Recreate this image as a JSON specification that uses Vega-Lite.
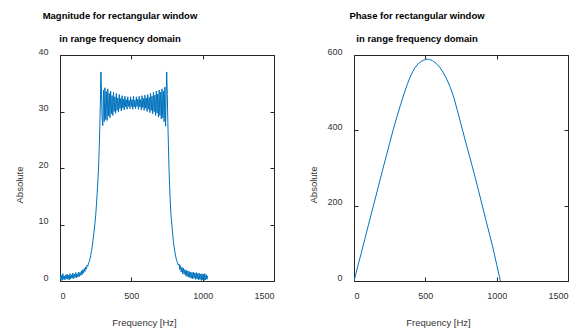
{
  "$schema": "https://vega.github.io/schema/vega-lite/v6.json",
  "padding": {"left": 13, "top": 10, "right": 5, "bottom": 5},
  "background": "white",
  "config": {
    "font": "Liberation Sans",
    "view": {"stroke": "#262626", "strokeWidth": 1},
    "axis": {"grid": false, "domain": false, "tickColor": "#262626", "tickSize": -4, "labelColor": "#333333", "labelFontSize": 9, "titleColor": "#333333", "titleFontSize": 9.5, "titleFontWeight": "normal", "format": "d"},
    "title": {"font": "Liberation Sans", "fontSize": 9.5, "fontWeight": "bold", "color": "#000000", "frame": "group", "lineHeight": 22.5, "offset": 4}
  },
  "spacing": 32,
  "datasets": {
    "mag": [
      {"f":0,"v":1.2},{"f":5,"v":0.2},{"f":10,"v":1.0},{"f":15,"v":0.1},{"f":20,"v":1.3},{"f":25,"v":0.3},{"f":30,"v":0.9},{"f":35,"v":0.2},{"f":40,"v":1.1},{"f":45,"v":0.4},
      {"f":50,"v":1.2},{"f":55,"v":0.3},{"f":60,"v":1.0},{"f":65,"v":0.2},{"f":70,"v":1.3},{"f":75,"v":0.4},{"f":80,"v":1.1},{"f":85,"v":0.5},{"f":90,"v":1.4},{"f":95,"v":0.4},
      {"f":100,"v":1.2},{"f":105,"v":0.6},{"f":110,"v":1.5},{"f":115,"v":0.6},{"f":120,"v":1.3},{"f":125,"v":0.7},{"f":130,"v":1.6},{"f":135,"v":0.8},{"f":140,"v":1.5},{"f":145,"v":1.0},
      {"f":150,"v":1.8},{"f":155,"v":1.1},{"f":160,"v":2.0},{"f":165,"v":1.4},{"f":170,"v":2.2},{"f":175,"v":1.7},{"f":180,"v":2.5},{"f":185,"v":2.1},{"f":190,"v":2.8},{"f":195,"v":2.6},
      {"f":200,"v":3.2},{"f":205,"v":3.4},{"f":210,"v":3.9},{"f":215,"v":4.5},{"f":220,"v":5.2},{"f":225,"v":6.0},{"f":230,"v":7.0},{"f":235,"v":8.0},{"f":240,"v":9.0},{"f":245,"v":10.2},
      {"f":250,"v":11.6},{"f":255,"v":13.3},{"f":260,"v":15.3},{"f":265,"v":17.5},{"f":270,"v":20},{"f":275,"v":23.5},{"f":280,"v":28},{"f":284,"v":33},{"f":287,"v":37},{"f":290,"v":34.5},
      {"f":295,"v":29},{"f":300,"v":27.5},{"f":305,"v":33.8},{"f":310,"v":28.2},{"f":315,"v":34.2},{"f":320,"v":28.6},{"f":325,"v":33.5},{"f":330,"v":28.4},{"f":335,"v":34},{"f":340,"v":29.2},
      {"f":345,"v":33.2},{"f":350,"v":28.9},{"f":355,"v":33.6},{"f":360,"v":29.6},{"f":365,"v":32.8},{"f":370,"v":29.3},{"f":375,"v":33.4},{"f":380,"v":30},{"f":385,"v":32.6},{"f":390,"v":29.7},
      {"f":395,"v":33.2},{"f":400,"v":30.2},{"f":405,"v":32.4},{"f":410,"v":29.9},{"f":415,"v":33},{"f":420,"v":30.5},{"f":425,"v":32.3},{"f":430,"v":30.1},{"f":435,"v":32.8},{"f":440,"v":30.6},
      {"f":445,"v":32.2},{"f":450,"v":30.3},{"f":455,"v":32.7},{"f":460,"v":30.8},{"f":465,"v":32.1},{"f":470,"v":30.4},{"f":475,"v":32.6},{"f":480,"v":30.9},{"f":485,"v":32},{"f":490,"v":30.5},
      {"f":495,"v":32.6},{"f":500,"v":30.9},{"f":505,"v":32.1},{"f":510,"v":30.4},{"f":515,"v":32.7},{"f":520,"v":30.8},{"f":525,"v":32},{"f":530,"v":30.5},{"f":535,"v":32.6},{"f":540,"v":30.9},
      {"f":545,"v":32.2},{"f":550,"v":30.4},{"f":555,"v":32.7},{"f":560,"v":30.8},{"f":565,"v":32.1},{"f":570,"v":30.3},{"f":575,"v":32.8},{"f":580,"v":30.7},{"f":585,"v":32.3},{"f":590,"v":30.2},
      {"f":595,"v":32.9},{"f":600,"v":30.6},{"f":605,"v":32.4},{"f":610,"v":30},{"f":615,"v":33},{"f":620,"v":30.4},{"f":625,"v":32.5},{"f":630,"v":29.8},{"f":635,"v":33.2},{"f":640,"v":30.2},
      {"f":645,"v":32.7},{"f":650,"v":29.6},{"f":655,"v":33.4},{"f":660,"v":30},{"f":665,"v":32.9},{"f":670,"v":29.3},{"f":675,"v":33.6},{"f":680,"v":29.7},{"f":685,"v":33.1},{"f":690,"v":29},
      {"f":695,"v":33.8},{"f":700,"v":29.3},{"f":705,"v":33.4},{"f":710,"v":28.7},{"f":715,"v":34},{"f":720,"v":28.9},{"f":725,"v":33.6},{"f":730,"v":28.2},{"f":735,"v":34.3},{"f":740,"v":27.4},
      {"f":744,"v":33},{"f":748,"v":37},{"f":752,"v":33},{"f":756,"v":28},{"f":760,"v":24},{"f":764,"v":20},{"f":768,"v":17},{"f":772,"v":14.5},{"f":776,"v":12.5},{"f":780,"v":11},
      {"f":784,"v":10},{"f":790,"v":8.2},{"f":795,"v":7},{"f":800,"v":6},{"f":806,"v":5},{"f":812,"v":4.2},{"f":818,"v":3.6},{"f":824,"v":3.2},{"f":830,"v":2.8},{"f":835,"v":3.0},
      {"f":840,"v":2.0},{"f":845,"v":2.7},{"f":850,"v":1.6},{"f":855,"v":2.4},{"f":860,"v":1.3},{"f":865,"v":2.3},{"f":870,"v":1.2},{"f":875,"v":2.0},{"f":880,"v":1.0},{"f":885,"v":1.9},
      {"f":890,"v":0.8},{"f":895,"v":1.8},{"f":900,"v":0.7},{"f":905,"v":1.7},{"f":910,"v":0.6},{"f":915,"v":1.6},{"f":920,"v":0.5},{"f":925,"v":1.5},{"f":930,"v":0.4},{"f":935,"v":1.6},
      {"f":940,"v":0.5},{"f":945,"v":1.4},{"f":950,"v":0.3},{"f":955,"v":1.5},{"f":960,"v":0.4},{"f":965,"v":1.3},{"f":970,"v":0.2},{"f":975,"v":1.4},{"f":980,"v":0.3},{"f":985,"v":1.2},
      {"f":990,"v":0.1},{"f":995,"v":1.3},{"f":1000,"v":0.2},{"f":1005,"v":1.2},{"f":1010,"v":0.1},{"f":1015,"v":1.3},{"f":1020,"v":0.2},{"f":1025,"v":1.1},{"f":1030,"v":0.3},{"f":1035,"v":0.9}
    ],
    "phase": [
      {"f":0,"v":0},{"f":25,"v":37},{"f":50,"v":73},{"f":75,"v":110},{"f":100,"v":147},{"f":125,"v":184},{"f":150,"v":220},{"f":175,"v":257},{"f":200,"v":294},{"f":225,"v":330},
      {"f":250,"v":366},{"f":275,"v":402},{"f":300,"v":435},{"f":325,"v":466},{"f":350,"v":496},{"f":375,"v":524},{"f":400,"v":547},{"f":425,"v":565},{"f":450,"v":577},{"f":475,"v":584},
      {"f":500,"v":588},{"f":515,"v":589},{"f":530,"v":588},{"f":550,"v":585},{"f":575,"v":578},{"f":600,"v":568},{"f":625,"v":554},{"f":650,"v":536},{"f":675,"v":514},{"f":700,"v":487},
      {"f":725,"v":452},{"f":750,"v":416},{"f":775,"v":380},{"f":800,"v":345},{"f":825,"v":310},{"f":850,"v":274},{"f":875,"v":237},{"f":900,"v":199},{"f":925,"v":161},{"f":950,"v":124},
      {"f":975,"v":86},{"f":1000,"v":44},{"f":1026,"v":0}
    ]
  },
  "hconcat": [
    {
      "width": 214,
      "height": 226,
      "title": {"text": ["Magnitude for rectangular window", "in range frequency domain"], "anchor": "start", "align": "center", "dx": 60},
      "data": {"name": "mag"},
      "resolve": {"axis": {"x": "independent", "y": "independent"}},
      "layer": [
        {
          "mark": {"type": "line", "color": "#0072BD", "strokeWidth": 1, "clip": true},
          "encoding": {
            "x": {"field": "f", "type": "quantitative", "scale": {"domain": [0, 1500], "nice": false},
                  "axis": {"orient": "bottom", "values": [0, 500, 1000, 1500], "title": "Frequency [Hz]", "labelPadding": 14, "titleX": 84, "titleY": 44.5, "titleBaseline": "alphabetic"}},
            "y": {"field": "v", "type": "quantitative", "scale": {"domain": [0, 40], "nice": false},
                  "axis": {"orient": "left", "values": [0, 10, 20, 30, 40], "title": "Absolute", "labelPadding": 16, "labelOffset": -4, "titleX": -38, "titleY": 129.5, "titleBaseline": "alphabetic", "titleAngle": -90, "titleAlign": "center"}}
          }
        },
        {
          "mark": {"type": "line", "opacity": 0},
          "encoding": {
            "x": {"field": "f", "type": "quantitative", "axis": {"orient": "top", "values": [0, 500, 1000, 1500], "labels": false, "title": null}},
            "y": {"field": "v", "type": "quantitative", "axis": {"orient": "right", "values": [0, 10, 20, 30, 40], "labels": false, "title": null}}
          }
        }
      ]
    },
    {
      "width": 214,
      "height": 226,
      "title": {"text": ["Phase for rectangular window", "in range frequency domain"], "anchor": "start", "align": "center", "dx": 63},
      "data": {"name": "phase"},
      "resolve": {"axis": {"x": "independent", "y": "independent"}},
      "layer": [
        {
          "mark": {"type": "line", "color": "#0072BD", "strokeWidth": 1, "clip": true},
          "encoding": {
            "x": {"field": "f", "type": "quantitative", "scale": {"domain": [0, 1500], "nice": false},
                  "axis": {"orient": "bottom", "values": [0, 500, 1000, 1500], "title": "Frequency [Hz]", "labelPadding": 14, "titleX": 84, "titleY": 44.5, "titleBaseline": "alphabetic"}},
            "y": {"field": "v", "type": "quantitative", "scale": {"domain": [0, 600], "nice": false},
                  "axis": {"orient": "left", "values": [0, 200, 400, 600], "title": "Absolute", "labelPadding": 16, "labelOffset": -4, "titleX": -38, "titleY": 129.5, "titleBaseline": "alphabetic", "titleAngle": -90, "titleAlign": "center"}}
          }
        },
        {
          "mark": {"type": "line", "opacity": 0},
          "encoding": {
            "x": {"field": "f", "type": "quantitative", "axis": {"orient": "top", "values": [0, 500, 1000, 1500], "labels": false, "title": null}},
            "y": {"field": "v", "type": "quantitative", "axis": {"orient": "right", "values": [0, 200, 400, 600], "labels": false, "title": null}}
          }
        }
      ]
    }
  ]
}
